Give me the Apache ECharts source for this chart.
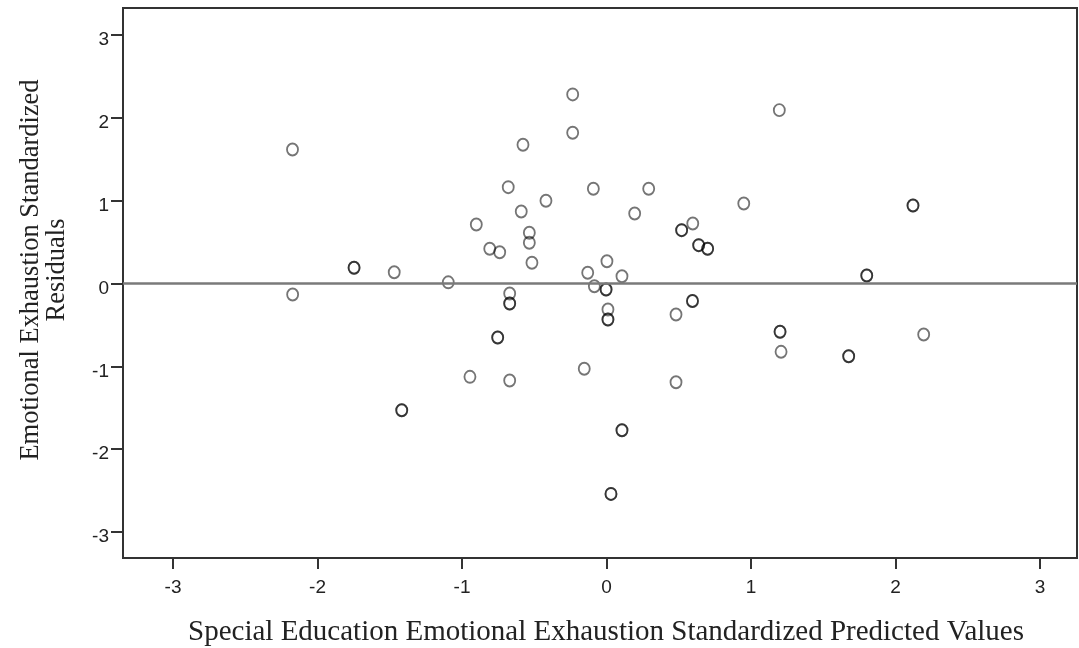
<!DOCTYPE html>
<html>
<head>
<meta charset="utf-8">
<script src="https://cdn.jsdelivr.net/npm/echarts@6/dist/echarts.min.js"></script>
<style>html,body{margin:0;padding:0;background:#fff}#c{width:1079px;height:648px}</style>
</head>
<body>
<div id="c"></div>
<script>
// Standardized predicted values (x) and standardized residuals (y); repeated pairs are overlapping cases
const predicted = [
  -2.173, -2.172, -1.747, -1.747, -1.469, -1.095, -1.417, -1.417, -0.945, -0.901,
  -0.808, -0.739, -0.753, -0.753, -0.680, -0.670, -0.670, -0.670, -0.670, -0.578,
  -0.590, -0.534, -0.534, -0.516, -0.419, -0.234, -0.234, -0.154, -0.130, -0.091,
  -0.084, -0.003, -0.003, 0.003, 0.010, 0.010, 0.010, 0.107, 0.107, 0.107,
  0.031, 0.031, 0.195, 0.292, 0.481, 0.481, 0.520, 0.520, 0.597, 0.595,
  0.595, 0.638, 0.638, 0.700, 0.700, 0.950, 1.196, 1.201, 1.201, 1.208,
  1.676, 1.676, 1.801, 1.801, 2.121, 2.121, 2.195
];
const residuals = [
  1.618, -0.133, 0.190, 0.190, 0.136, 0.014, -1.530, -1.530, -1.127, 0.713,
  0.419, 0.378, -0.652, -0.652, 1.163, -0.121, -0.242, -0.242, -1.171, 1.675,
  0.870, 0.612, 0.492, 0.250, 0.999, 2.283, 1.820, -1.030, 0.129, 1.144,
  -0.033, -0.072, -0.072, 0.269, -0.314, -0.435, -0.435, 0.088, -1.772, -1.772,
  -2.540, -2.540, 0.845, 1.144, -0.374, -1.192, 0.644, 0.644, 0.725, -0.211,
  -0.211, 0.463, 0.463, 0.419, 0.419, 0.966, 2.093, -0.583, -0.583, -0.825,
  -0.878, -0.878, 0.097, 0.097, 0.942, 0.942, -0.616
];
const xTicks = [-3, -2, -1, 0, 1, 2, 3];
const yTicks = [-3, -2, -1, 0, 1, 2, 3];
const xTitle = 'Special Education Emotional Exhaustion Standardized Predicted Values';
const yTitle = 'Emotional Exhaustion Standardized\nResiduals';

const points = predicted.map((v, i) => [v, residuals[i]]);

const chart = echarts.init(document.getElementById('c'), null, {renderer: 'canvas'});
const axisLine = {show: true, onZero: false, lineStyle: {color: '#333', width: 2}};
chart.setOption({
  backgroundColor: '#ffffff',
  animation: false,
  grid: {left: 123, right: 2, top: 8, bottom: 90, show: true, borderColor: '#333', borderWidth: 2, backgroundColor: 'transparent'},
  xAxis: {
    type: 'value', min: -3.346, max: 3.256,
    axisLine: axisLine,
    axisTick: {show: true, length: 11, lineStyle: {color: '#333', width: 2}, customValues: xTicks},
    axisLabel: {customValues: xTicks, margin: 20, fontFamily: 'Liberation Sans', fontSize: 19, color: '#222'},
    splitLine: {show: false}
  },
  yAxis: {
    type: 'value', min: -3.314, max: 3.326,
    axisLine: axisLine,
    axisTick: {show: true, length: 12, lineStyle: {color: '#333', width: 2}, customValues: yTicks},
    axisLabel: {
      customValues: yTicks, margin: 14, fontFamily: 'Liberation Sans', fontSize: 19, color: '#222',
      formatter: v => '{a|' + v + '}',
      rich: {a: {fontFamily: 'Liberation Sans', fontSize: 19, color: '#222', padding: [10, 0, 0, 0]}}
    },
    splitLine: {show: false}
  },
  series: [{
    type: 'scatter',
    data: points,
    symbol: 'circle',
    symbolSize: [11, 12],
    itemStyle: {color: 'rgba(255,255,255,0)', borderColor: 'rgba(0,0,0,0.68)', borderWidth: 1.9},
    markLine: {
      silent: true, symbol: ['none', 'none'], label: {show: false},
      lineStyle: {color: '#7a7a7a', width: 2.5, type: 'solid'},
      data: [{yAxis: 0}]
    },
    z: 3
  }],
  graphic: [
    {type: 'text', x: 606, y: 632, style: {text: xTitle, fontFamily: 'Liberation Serif', fontSize: 29, fill: '#222', textAlign: 'center', textVerticalAlign: 'middle'}},
    {type: 'text', x: 44, y: 270, rotation: Math.PI / 2, style: {text: yTitle, fontFamily: 'Liberation Serif', fontSize: 26.5, lineHeight: 26, fill: '#222', textAlign: 'center', textVerticalAlign: 'middle'}}
  ]
});
</script>
</body>
</html>
